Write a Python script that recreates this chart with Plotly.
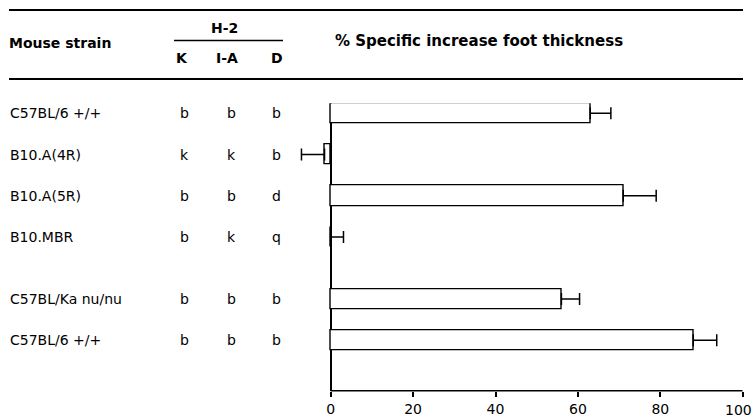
import plotly.graph_objects as go

# ---- data ----
strains = ["C57BL/6 +/+", "B10.A(4R)", "B10.A(5R)", "B10.MBR", "C57BL/Ka nu/nu", "C57BL/6 +/+"]
h2_K = ["b", "k", "b", "b", "b", "b"]
h2_IA = ["b", "k", "b", "k", "b", "b"]
h2_D = ["b", "b", "d", "q", "b", "b"]
increase = [63, -1.5, 71, 0, 56, 88]
error = [5, 5.6, 8, 3.1, 4.4, 5.7]
x_ticks = [0, 20, 40, 60, 80, 100]

W, H = 754, 418
FONT = "DejaVu Sans"


def fx(px):
    return px / W


def fy(py):
    return 1 - py / H


# row positions: the last two strains form a separate group
rows = []
pos = 0.0
for i in range(len(strains)):
    if i == 4:
        pos += 0.5
    rows.append(pos)
    pos += 1.0

err_plus = [e if v >= 0 else 0 for v, e in zip(increase, error)]
err_minus = [e if v < 0 else 0 for v, e in zip(increase, error)]

fig = go.Figure()
fig.add_trace(go.Bar(
    x=increase, y=rows, orientation="h", width=0.49,
    marker=dict(color="white", line=dict(color="black", width=1.4)),
    error_x=dict(type="data", symmetric=False, array=err_plus, arrayminus=err_minus,
                 color="black", thickness=1.5, width=6),
    showlegend=False, hoverinfo="skip",
))

annotations = []
# strain names and H-2 haplotypes
for r, s, k, ia, d in zip(rows, strains, h2_K, h2_IA, h2_D):
    annotations.append(dict(x=fx(8), y=r, xref="paper", yref="y", text=s,
                            xanchor="left", yanchor="middle", showarrow=False,
                            font=dict(family=FONT, size=14, color="black")))
    for cx, t in ((184, k), (231, ia), (276, d)):
        annotations.append(dict(x=fx(cx), y=r, xref="paper", yref="y", text=t,
                                xanchor="center", yanchor="middle", showarrow=False,
                                font=dict(family=FONT, size=14, color="black")))


# table header
def head(text, px, py, anchor="center", size=14):
    annotations.append(dict(x=fx(px), y=fy(py), xref="paper", yref="paper", text=text,
                            xanchor=anchor, yanchor="middle", showarrow=False,
                            font=dict(family=FONT, size=size, color="black", weight="bold")))


head("Mouse strain", 7, 43, anchor="left")
head("H-2", 224, 28)
head("K", 182, 58)
head("I-A", 227, 58)
head("D", 277, 58)
head("% Specific increase foot thickness", 333, 41, anchor="left", size=15)

# the last tick label sits on the right edge of the figure; keep it inside the page
annotations.append(dict(x=x_ticks[-1], xref="x", y=fy(410), yref="paper", text=str(x_ticks[-1]),
                        xanchor="right", xshift=11, yanchor="middle", showarrow=False,
                        font=dict(family=FONT, size=14, color="black")))

shapes = [
    # top and bottom rules of the header
    dict(type="line", xref="paper", yref="paper", x0=fx(9), x1=fx(743), y0=fy(10), y1=fy(10),
         line=dict(color="black", width=2)),
    dict(type="line", xref="paper", yref="paper", x0=fx(9), x1=fx(743), y0=fy(79), y1=fy(79),
         line=dict(color="black", width=2)),
    # rule under H-2
    dict(type="line", xref="paper", yref="paper", x0=fx(174), x1=fx(283), y0=fy(40.5), y1=fy(40.5),
         line=dict(color="black", width=1.5)),
    # x axis line from 0 to 100
    dict(type="line", xref="x", yref="y domain", x0=0, x1=100, y0=0, y1=0,
         line=dict(color="black", width=1.5)),
]

fig.update_layout(
    width=W, height=H,
    margin=dict(l=0, r=0, t=0, b=0),
    paper_bgcolor="white", plot_bgcolor="white",
    annotations=annotations, shapes=shapes,
    xaxis=dict(domain=[fx(295.7), fx(742.7)], range=[-8.5, 100],
               tickvals=x_ticks, ticks="outside", ticklen=5, tickwidth=1.5, tickcolor="black",
               showgrid=False, showline=False,
               zeroline=True, zerolinecolor="black", zerolinewidth=1.5,
               tickfont=dict(family=FONT, size=14, color="black")),
    yaxis=dict(domain=[fy(390.7), fy(103.3)], range=[6.72, -0.24],
               showticklabels=False, ticks="", showgrid=False, showline=False, zeroline=False),
    bargap=0,
)

fig.write_html("out.html")
